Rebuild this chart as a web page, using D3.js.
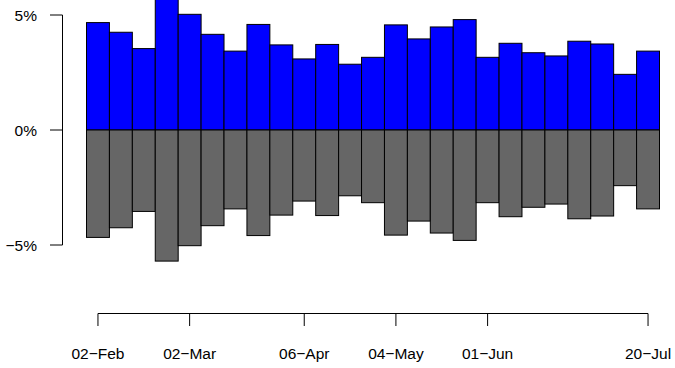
<!DOCTYPE html>
<html>
<head>
<meta charset="utf-8">
<script src="https://cdn.jsdelivr.net/npm/d3@7"></script>
<style>
html,body{margin:0;padding:0;background:#fff;}
svg{display:block;}
text{font-family:"Liberation Sans",Arial,Helvetica,sans-serif;font-size:15.5px;fill:#000;}
</style>
</head>
<body>
<svg id="chart" width="675" height="368"></svg>
<script>
const weeks = ["02-Feb","09-Feb","16-Feb","23-Feb","02-Mar","09-Mar","16-Mar","23-Mar","30-Mar","06-Apr","13-Apr","20-Apr","27-Apr","04-May","11-May","18-May","25-May","01-Jun","08-Jun","15-Jun","22-Jun","29-Jun","06-Jul","13-Jul","20-Jul"];
const values = [4.67,4.25,3.54,5.70,5.03,4.16,3.43,4.59,3.70,3.09,3.72,2.86,3.16,4.57,3.96,4.48,4.80,3.16,3.77,3.36,3.22,3.86,3.74,2.42,3.43];
const xTickLabels = ["02-Feb","02-Mar","06-Apr","04-May","01-Jun","20-Jul"];
const yTicks = [-5,0,5];

const svg = d3.select("#chart");
const x = d3.scaleBand().domain(weeks).range([86.5,659.5]).padding(0);
const y = d3.scaleLinear().domain([-5,5]).range([245,15]);
const minus = s => s.replace(/-/g,"\u2212");

// positive bars
svg.append("g").selectAll("rect").data(weeks).join("rect")
  .attr("x", d => x(d))
  .attr("width", x.bandwidth())
  .attr("y", (d,i) => y(values[i]))
  .attr("height", (d,i) => y(0) - y(values[i]))
  .attr("fill", "#0000ff").attr("stroke", "#000").attr("stroke-width", 1);
// negative mirrored bars
svg.append("g").selectAll("rect").data(weeks).join("rect")
  .attr("x", d => x(d))
  .attr("width", x.bandwidth())
  .attr("y", y(0))
  .attr("height", (d,i) => y(-values[i]) - y(0))
  .attr("fill", "#666666").attr("stroke", "#000").attr("stroke-width", 1);

// y axis (R style)
const yAxisX = 62.5;
const ya = svg.append("g");
ya.append("line").attr("x1",yAxisX).attr("x2",yAxisX)
  .attr("y1",y(d3.min(yTicks))).attr("y2",y(d3.max(yTicks))).attr("stroke","#000");
yTicks.forEach(t => {
  ya.append("line").attr("x1",yAxisX-12.5).attr("x2",yAxisX).attr("y1",y(t)).attr("y2",y(t)).attr("stroke","#000");
  ya.append("text").attr("x",37).attr("y",y(t)+6).attr("text-anchor","end").text(minus(t+"%"));
});

// x axis (R style)
const axY = 313.5;
const centers = xTickLabels.map(l => x(l) + x.bandwidth()/2);
const xa = svg.append("g");
xa.append("line").attr("x1",d3.min(centers)).attr("x2",d3.max(centers)).attr("y1",axY).attr("y2",axY).attr("stroke","#000");
xTickLabels.forEach((l,i) => {
  xa.append("line").attr("x1",centers[i]).attr("x2",centers[i]).attr("y1",axY).attr("y2",axY+12.5).attr("stroke","#000");
  xa.append("text").attr("x",centers[i]).attr("y",359).attr("text-anchor","middle").text(minus(l));
});
</script>
</body>
</html>
